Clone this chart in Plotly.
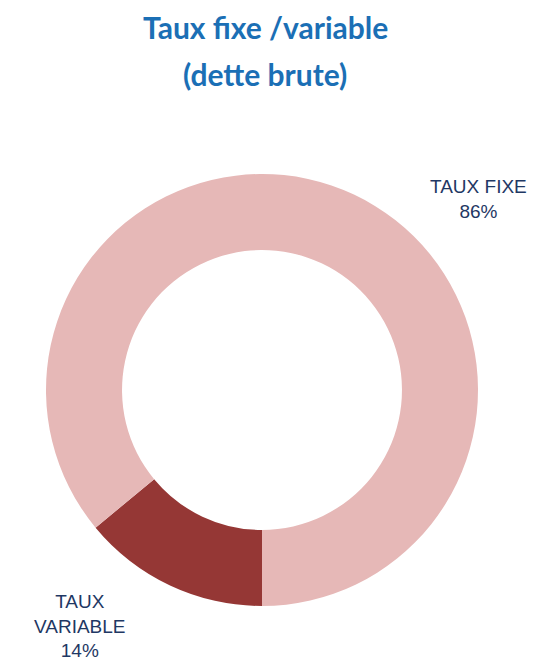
import plotly.graph_objects as go

labels = ["TAUX VARIABLE", "TAUX FIXE"]
values = [14, 86]
colors = ["#953735", "#e6b8b7"]
label_texts = ["TAUX<br>VARIABLE<br>14%", "TAUX FIXE<br>86%"]
title_lines = ["Taux fixe /variable", "(dette brute)"]

W, H = 553, 666
OFF = 8  # page body margin offset
cx, cy, R = 262 - OFF, 390 - OFF, 216

fig = go.Figure(go.Pie(
    labels=labels, values=values, sort=False, direction="clockwise", rotation=180,
    hole=0.648, marker=dict(colors=colors), textinfo="none", hoverinfo="label+percent",
    showlegend=False,
    domain=dict(x=[(cx - R) / W, (cx + R) / W], y=[(H - cy - R) / H, (H - cy + R) / H]),
))

# Title lines
for txt, y in zip(title_lines, [27, 74]):
    fig.add_annotation(text=f"<b>{txt}</b>", x=(265 - OFF) / W, y=1 - (y - OFF) / H,
                       xref="paper", yref="paper", borderpad=0,
                       showarrow=False, xanchor="center", yanchor="middle",
                       font=dict(family="Lato", size=30, color="#1b6fb5"))

# Slice labels
for txt, (x, y) in zip(label_texts, [(80, 626), (478, 199)]):
    fig.add_annotation(text=txt, x=(x - OFF) / W, y=1 - (y - OFF) / H,
                       xref="paper", yref="paper",
                       showarrow=False, xanchor="center", yanchor="middle", align="center",
                       font=dict(family="Liberation Sans", size=19, color="#1f3864"))

fig.update_layout(width=W, height=H, margin=dict(l=0, r=0, t=0, b=0),
                  paper_bgcolor="white", plot_bgcolor="white")
fig.write_html("out.html")
